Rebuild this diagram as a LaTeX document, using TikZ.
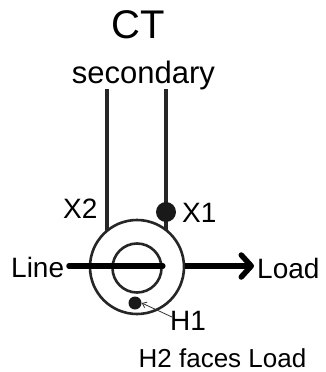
\documentclass[tikz,border=0pt]{standalone}
\usepackage{fontspec}
\setmainfont{Liberation Sans}
\usetikzlibrary{arrows.meta}
\begin{document}
\begin{tikzpicture}[x=1pt,y=-1pt,
  lbl/.style={inner sep=0pt,font=\fontsize{28}{30}\selectfont},
  wire/.style={line width=4pt,black!85},
  ring/.style={circle,draw=black!85,line width=2.6pt,inner sep=0pt},
  dotnode/.style={circle,fill=black!90,inner sep=0pt},
  heavy/.style={line width=5.5pt,black}]
\useasboundingbox[fill=white] (0,0) rectangle (326,372);
% texts
\node[lbl,anchor=base,font=\fontsize{40}{42}\selectfont] (ct) at (138,38) {CT};
\node[lbl,anchor=base,font=\fontsize{31}{33}\selectfont] (sec) at (143.5,83) {secondary};
\node[lbl,anchor=base west] (x2) at (63,218) {X2};
\node[lbl,anchor=base west] (x1) at (182,222) {X1};
\node[lbl,anchor=base west] (linetxt) at (11,277) {Line};
\node[lbl,anchor=base west] (loadtxt) at (257,278) {Load};
\node[lbl,anchor=base west] (h1) at (170,330) {H1};
\node[lbl,anchor=base,font=\fontsize{26}{28}\selectfont] (h2) at (222.5,367) {H2 faces Load};
% secondary wires
\coordinate (w2) at (107,89);
\coordinate (w1) at (166,89);
\coordinate (c) at (137,267);
\draw[wire] (w2) -- (w2 |- c);
\draw[wire] (w1) -- (w1 |- c);
% core
\node[ring,fill=white,minimum size=94pt] (core) at (137,267) {};
\node[ring,minimum size=49pt] (hole) at (137,268) {};
\node[dotnode,minimum size=20pt] (x1dot) at (166,212) {};
\node[dotnode,minimum size=13pt] (h1dot) at (135,303) {};
% primary conductor
\coordinate (ls) at (69,266);
\coordinate (le) at (254,266);
\draw[heavy,line cap=round] (ls) -- (hole.east |- ls);
\draw[heavy,-{Straight Barb[length=10pt,width=22pt,round]}] (core.east |- ls) -- (le);
% H1 pointer
\coordinate (h1p) at (172,317);
\draw[line width=0.8pt,black!80,-{Straight Barb[length=4pt,width=6pt]}] (h1p) -- (h1dot.east);
\end{tikzpicture}
\end{document}
